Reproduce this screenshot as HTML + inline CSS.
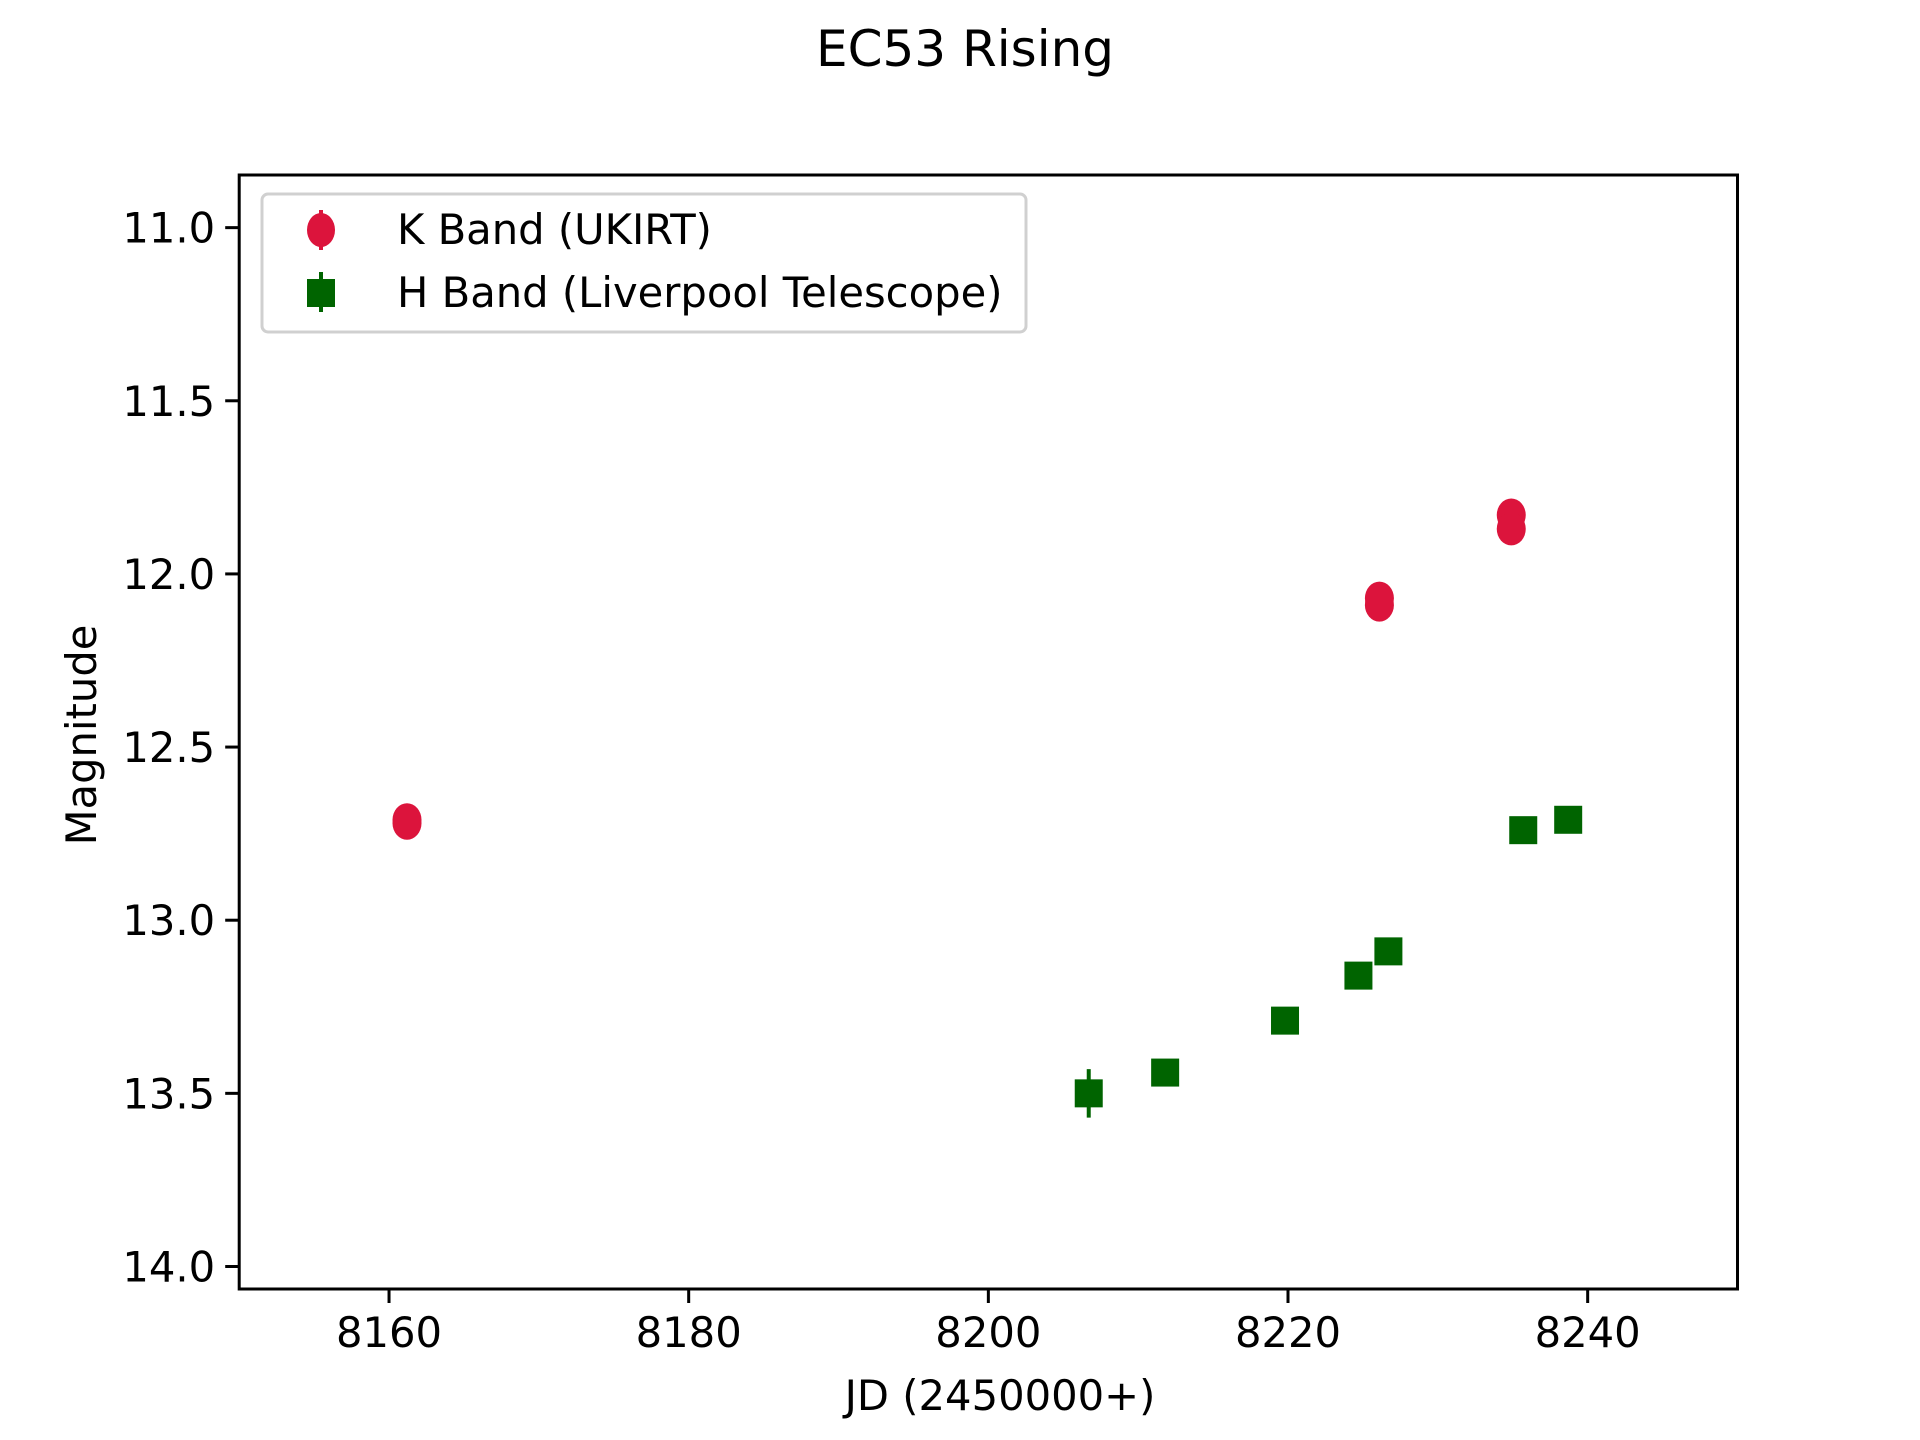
<!DOCTYPE html>
<html><head><meta charset="utf-8"><style>
html,body{margin:0;padding:0;background:#fff;}
svg{display:block;font-family:"DejaVu Sans","Liberation Sans",sans-serif;}
</style></head><body>
<svg id="chart" width="1920" height="1440" viewBox="0 0 1920 1440" xmlns="http://www.w3.org/2000/svg">
<rect width="1920" height="1440" fill="#fff"/>
<text x="965" y="66" font-size="50" text-anchor="middle">EC53 Rising</text>
<g id="marks"></g>
<g id="axes"></g>
<text x="1000" y="1410" font-size="41.7" text-anchor="middle">JD (2450000+)</text>
<text transform="translate(96,735) rotate(-90)" font-size="41.7" text-anchor="middle">Magnitude</text>
<g>
<rect x="262" y="194" width="764" height="138" rx="6" fill="#fff" fill-opacity="0.8" stroke="#d0d0d0" stroke-width="3"/>
<g>
<line x1="321" y1="210" x2="321" y2="250" stroke="#dc143c" stroke-width="4"/>
<ellipse cx="321" cy="230" rx="14" ry="17" fill="#dc143c"/>
<text x="397" y="244" font-size="41.7">K Band (UKIRT)</text>
</g>
<g>
<line x1="321" y1="272" x2="321" y2="312" stroke="#006400" stroke-width="4"/>
<rect x="307" y="279" width="28" height="28" fill="#006400"/>
<text x="397" y="307" font-size="41.7">H Band (Liverpool Telescope)</text>
</g>
</g>
</svg>
<script>
const kJD = [8161.2, 8161.2, 8226.1, 8226.1, 8234.9, 8234.9];
const kMag = [12.71, 12.72, 12.07, 12.09, 11.83, 11.87];
const kErr = [0.02, 0.02, 0.02, 0.02, 0.02, 0.02];
const hJD = [8206.7, 8211.8, 8219.8, 8224.7, 8226.7, 8235.7, 8238.7];
const hMag = [13.50, 13.44, 13.29, 13.16, 13.09, 12.74, 12.71];
const hErr = [0.07, 0.02, 0.02, 0.02, 0.02, 0.02, 0.02];
const xTicks = [8160, 8180, 8200, 8220, 8240];
const yTicks = [11.0, 11.5, 12.0, 12.5, 13.0, 13.5, 14.0];

const L = 239.2, R = 1737.5, T = 175, B = 1289;
const xMin = 8150, xMax = 8250, yMin = 10.848, yMax = 14.065;
const xs = v => L + (v - xMin) / (xMax - xMin) * (R - L);
const ys = v => T + (v - yMin) / (yMax - yMin) * (B - T);
const NS = "http://www.w3.org/2000/svg";
function mk(tag, attrs, parent) {
  const e = document.createElementNS(NS, tag);
  for (const k in attrs) e.setAttribute(k, attrs[k]);
  parent.appendChild(e);
  return e;
}
const marks = document.getElementById('marks');
const axes = document.getElementById('axes');

kJD.forEach((x, i) => {
  const g = mk('g', {}, marks);
  
  
  mk('line', {x1: xs(x), x2: xs(x), y1: ys(kMag[i] - kErr[i]), y2: ys(kMag[i] + kErr[i]), stroke: '#dc143c', 'stroke-width': 4}, g);
  mk('ellipse', {cx: xs(x), cy: ys(kMag[i]), rx: 14.5, ry: 16.5, fill: '#dc143c'}, g);
});
hJD.forEach((x, i) => {
  const g = mk('g', {}, marks);
  
  
  mk('line', {x1: xs(x), x2: xs(x), y1: ys(hMag[i] - hErr[i]), y2: ys(hMag[i] + hErr[i]), stroke: '#006400', 'stroke-width': 4}, g);
  mk('rect', {x: xs(x) - 14, y: ys(hMag[i]) - 14, width: 28, height: 28, fill: '#006400'}, g);
});

const frame = mk('rect', {x: L, y: T, width: R - L, height: B - T, fill: 'none', stroke: '#000', 'stroke-width': 3}, axes);


xTicks.forEach(t => {
  const g = mk('g', {}, axes);
  
  
  mk('line', {x1: xs(t), x2: xs(t), y1: B, y2: B + 14, stroke: '#000', 'stroke-width': 3}, g);
  const tx = mk('text', {x: xs(t), y: B + 58, 'font-size': 41.7, 'text-anchor': 'middle'}, g);
  tx.textContent = String(t);
});
yTicks.forEach(t => {
  const g = mk('g', {}, axes);
  
  
  mk('line', {x1: L - 14, x2: L, y1: ys(t), y2: ys(t), stroke: '#000', 'stroke-width': 3}, g);
  const tx = mk('text', {x: L - 24, y: ys(t) + 15, 'font-size': 41.7, 'text-anchor': 'end'}, g);
  tx.textContent = t.toFixed(1);
});
</script>
</body></html>
